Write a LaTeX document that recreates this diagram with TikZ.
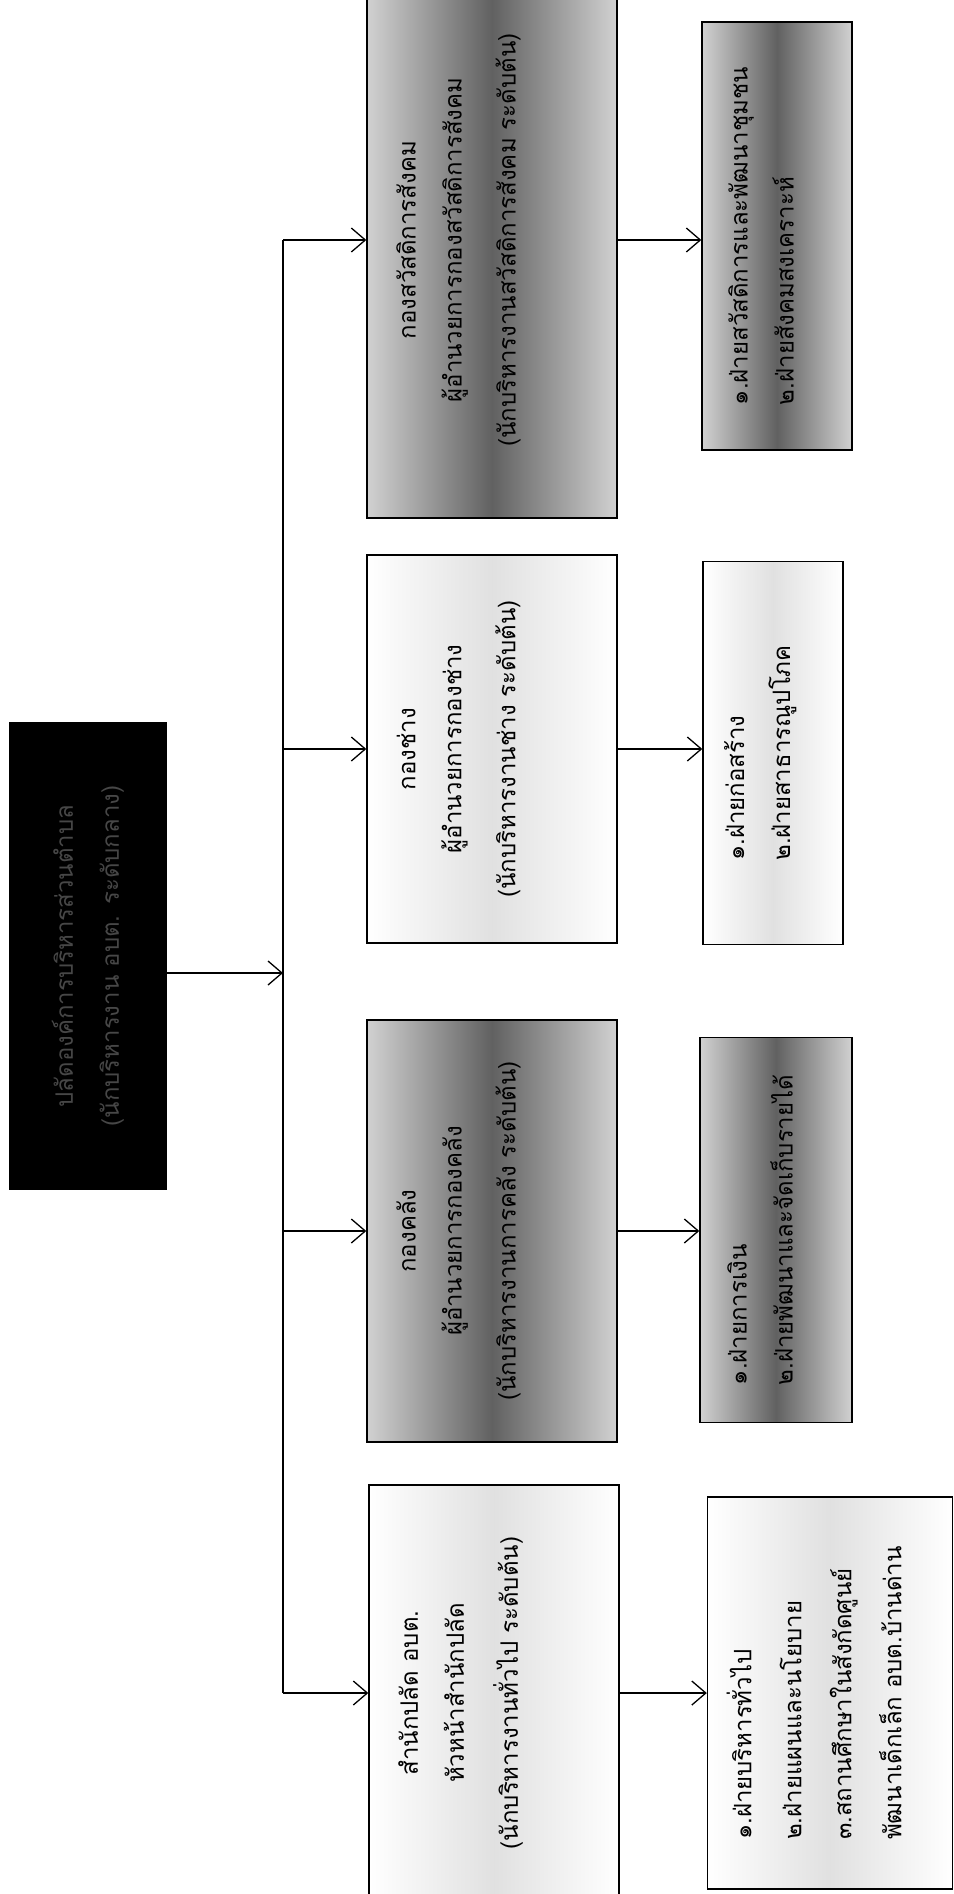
\documentclass[tikz,border=0pt]{standalone}
\usepackage{fontspec}
\newfontfamily\thaifont[Script=Thai]{Loma}
\usetikzlibrary{arrows.meta,positioning}
\tikzset{
  unitbox/.style={draw=black,line width=1.4pt,rotate=90,inner sep=0pt,align=center,
    font=\thaifont\fontsize{24}{46}\selectfont},
  darkbox/.style={unitbox,left color=black!18,right color=black!18,middle color=black!62},
  lightbox/.style={unitbox,left color=white,right color=white,middle color=black!12},
  chiefbox/.style={unitbox,fill=black,text=black!72},
  arrow/.style={-{Straight Barb[length=14pt,width=24pt]},line width=1.3pt}
}
\newcommand{\padlow}{\\[26pt]\mbox{}}
\newcommand{\padsmall}{\\[-14pt]\mbox{}}

\begin{document}
\begin{tikzpicture}[x=1pt,y=1pt]
  \useasboundingbox (0,0) rectangle (953,-1894);
  % top of the chart
  \node[chiefbox,minimum width=467,minimum height=156] (chief) at (88,-956) {ปลัดองค์การบริหารส่วนตำบล\\(นักบริหารงาน อบต. ระดับกลาง)};
  % divisions
  \node[lightbox,minimum width=416,minimum height=250] (office) at (494,-1693) {สำนักปลัด อบต.\\หัวหน้าสำนักปลัด\\[8pt](นักบริหารงานทั่วไป ระดับต้น)\padlow};
  \node[darkbox,minimum width=422,minimum height=250] (finance) at (492,-1231) {กองคลัง\\ผู้อำนวยการกองคลัง\\[8pt](นักบริหารงานการคลัง ระดับต้น)\padlow};
  \node[lightbox,minimum width=388,minimum height=250] (works) at (492,-749) {กองช่าง\\ผู้อำนวยการกองช่าง\\[8pt](นักบริหารงานช่าง ระดับต้น)\padlow};
  \node[darkbox,minimum width=556,minimum height=250] (welfare) at (492,-240) {กองสวัสดิการสังคม\\ผู้อำนวยการกองสวัสดิการสังคม\\[8pt](นักบริหารงานสวัสดิการสังคม ระดับต้น)\padlow};
  % sections
  \node[lightbox,align=left,minimum width=392,minimum height=245] (office-units) at (830,-1693) {๑.ฝ่ายบริหารทั่วไป\\[4pt]๒.ฝ่ายแผนและนโยบาย\\[4pt]๓.สถานศึกษาในสังกัดศูนย์\\[4pt]พัฒนาเด็กเล็ก อบต.บ้านด่าน\padsmall};
  \node[darkbox,align=left,minimum width=385,minimum height=152] (finance-units) at (776,-1230) {๑.ฝ่ายการเงิน\\๒.ฝ่ายพัฒนาและจัดเก็บรายได้\padsmall};
  \node[lightbox,align=left,minimum width=383,minimum height=140] (works-units) at (773,-753) {๑.ฝ่ายก่อสร้าง\\๒.ฝ่ายสาธารณูปโภค\padsmall};
  \node[darkbox,align=left,minimum width=428,minimum height=150] (welfare-units) at (777,-236) {๑.ฝ่ายสวัสดิการและพัฒนาชุมชน\\๒.ฝ่ายสังคมสงเคราะห์\padsmall};
  % connectors
  \coordinate (hub) at (283,-973);
  \draw[arrow] (chief.south |- hub) -- (hub);
  \draw[line width=1.3pt] (office.north -| hub) -- (welfare.north -| hub);
  \foreach \n in {office,finance,works,welfare} {
    \draw[arrow] (\n.north -| hub) -- (\n.north);
    \draw[arrow] (\n.south) -- (\n.south -| \n-units.north);
  }
\end{tikzpicture}
\end{document}
